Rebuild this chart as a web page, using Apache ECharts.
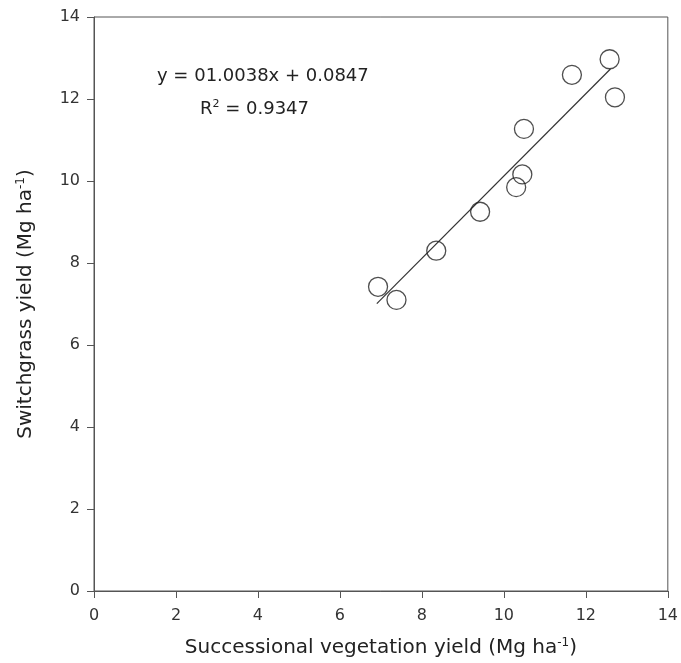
<!DOCTYPE html>
<html>
<head>
<meta charset="utf-8">
<script src="https://cdn.jsdelivr.net/npm/echarts@6/dist/echarts.min.js"></script>
<style>
  html, body { margin: 0; padding: 0; background: #fff; }
  #chart { width: 681px; height: 663px; }
</style>
</head>
<body>
<div id="chart"></div>
<script>
// successional vegetation yield (x) vs switchgrass yield (y), Mg/ha
const vegYield = [6.93, 7.38, 8.35, 9.42, 10.30, 10.45, 10.49, 11.66, 12.58, 12.71];
const grassYield = [7.42, 7.10, 8.30, 9.25, 9.85, 10.16, 11.27, 12.59, 12.97, 12.04];
// fitted line y = 1.0038x + 0.0847
const fitSlope = 1.0038;
const fitIntercept = 0.0847;
const fitRange = [6.9, 12.6];
const eqText = "y = 01.0038x + 0.0847";
const r2Text = "R{sup|2} = 0.9347";

const chart = echarts.init(document.getElementById("chart"));
const font = "DejaVu Sans, Liberation Sans, sans-serif";
const axisColor = "#555";

const points = vegYield.map((x, i) => [x, grassYield[i]]);
const fitLine = fitRange.map((x) => [x, fitSlope * x + fitIntercept]);

// superscript style for "-1", "2"
const supStyle = { fontSize: 12, verticalAlign: "top", padding: [0, 0, 10, 0], color: "#222", fontFamily: font };

chart.setOption({
  backgroundColor: "#fff",
  animation: false,
  textStyle: { fontFamily: font },
  grid: {
    left: 94,
    right: 12,
    top: 17,
    bottom: 72,
    show: true,
    borderColor: axisColor,
    borderWidth: 1,
  },
  xAxis: {
    type: "value",
    min: 0,
    max: 14,
    interval: 2,
    name: "Successional vegetation yield (Mg ha{sup|-1})",
    nameLocation: "middle",
    nameGap: 46,
    nameTextStyle: { fontSize: 20, color: "#222", fontFamily: font, rich: { sup: supStyle } },
    axisLine: { lineStyle: { color: axisColor, width: 1 } },
    axisTick: { inside: false, length: 7, lineStyle: { color: axisColor } },
    axisLabel: { fontSize: 16, color: "#333", margin: 17, fontFamily: font },
    splitLine: { show: false },
  },
  yAxis: {
    type: "value",
    min: 0,
    max: 14,
    interval: 2,
    name: "Switchgrass yield (Mg ha{sup|-1})",
    nameLocation: "middle",
    nameGap: 57,
    nameTextStyle: { fontSize: 20, color: "#222", fontFamily: font, rich: { sup: supStyle } },
    axisLine: { lineStyle: { color: axisColor, width: 1 } },
    axisTick: { inside: false, length: 7, lineStyle: { color: axisColor } },
    axisLabel: { fontSize: 16, color: "#333", margin: 14, fontFamily: font },
    splitLine: { show: false },
  },
  graphic: [
    {
      type: "text",
      left: 157,
      top: 67,
      style: { text: eqText, font: "18px " + font, fill: "#222" },
    },
    {
      type: "text",
      left: 200,
      top: 99,
      style: {
        text: r2Text,
        font: "18px " + font,
        fill: "#222",
        rich: { sup: { fontSize: 11, verticalAlign: "top", padding: [0, 0, 9, 0], fill: "#222", fontFamily: font } },
      },
    },
  ],
  series: [
    {
      type: "line",
      data: fitLine,
      symbol: "none",
      lineStyle: { color: "#333", width: 1.2 },
      z: 2,
    },
    {
      type: "scatter",
      data: points,
      symbol: "circle",
      symbolSize: 19,
      itemStyle: { color: "rgba(255,255,255,0)", borderColor: "#222", borderWidth: 1.3 },
      z: 3,
    },
  ],
});
</script>
</body>
</html>
